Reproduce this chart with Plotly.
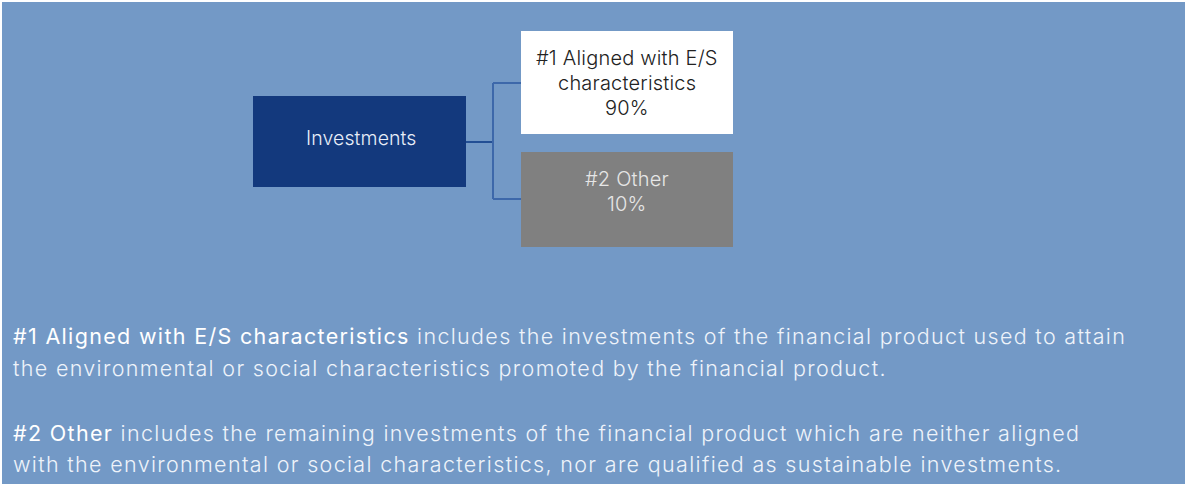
import plotly.graph_objects as go

# ---- data ----
root_label = "Investments"
branch_labels = [["#1 Aligned with E/S", "characteristics"], ["#2 Other"]]
branch_shares = [90, 10]
desc_titles = ["#1 Aligned with E/S characteristics", "#2 Other"]
desc_lines = [
    [" includes the investments of the financial product used to attain",
     "the environmental or social characteristics promoted by the financial product."],
    [" includes the remaining investments of the financial product which are neither aligned",
     "with the environmental or social characteristics, nor are qualified as sustainable investments."],
]

W, H = 1187, 484
BG = "#7399c6"
FONT = "Inter"

fig = go.Figure()
fig.add_trace(go.Scatter(x=[0, W], y=[0, H], mode="markers",
                         marker=dict(opacity=0), hoverinfo="skip", showlegend=False))

shapes = []
shapes.append(dict(type="rect", x0=2, x1=W - 2, y0=2, y1=H + 2, line=dict(width=0), fillcolor=BG, layer="below"))


def label(x, y, text, size, color, anchor="center", spacing=0.0, weight=300):
    if spacing:
        text = f"<span style='letter-spacing:{spacing}px'>{text}</span>"
    fig.add_annotation(x=x, y=y, xanchor=anchor, yanchor="middle", align=anchor if anchor != "center" else "center",
                       text=text, showarrow=False, borderpad=0,
                       font=dict(family=FONT, size=size, color=color, weight=weight))


root = dict(x0=253, x1=466, y0=96, y1=187)
shapes.append(dict(type="rect", **root, line=dict(width=0), fillcolor="#13397d"))
label((root["x0"] + root["x1"]) / 2 + 2, 138, root_label, 19.5, "#e8eef8", spacing=0.1)

boxes = [dict(x0=521, x1=733, y0=31, y1=134), dict(x0=521, x1=733, y0=152, y1=247)]
fills = ["#ffffff", "#808080"]
tcolors = ["#222222", "#e6e6e6"]
line_y = [[58, 83, 108], [179, 204]]
for b, lab, sh, fc, tc, ys in zip(boxes, branch_labels, branch_shares, fills, tcolors, line_y):
    shapes.append(dict(type="rect", **b, line=dict(width=0), fillcolor=fc))
    cx = (b["x0"] + b["x1"]) / 2
    for t, yy in zip(lab + [f"{sh}%"], ys):
        label(cx, yy, t, 20, tc, spacing=0.2)

LC = "#3d68aa"
cy_mid = 142
shapes.append(dict(type="line", x0=466, x1=493, y0=cy_mid, y1=cy_mid, line=dict(color="#234f94", width=2)))
shapes.append(dict(type="line", x0=493, x1=493, y0=83, y1=199, line=dict(color=LC, width=2)))
shapes.append(dict(type="line", x0=493, x1=521, y0=83, y1=83, line=dict(color=LC, width=2)))
shapes.append(dict(type="line", x0=493, x1=521, y0=199, y1=199, line=dict(color=LC, width=2)))

para_y = [[336, 368], [433, 464]]
SP = 1.33
FS = 21.5
for title, lines, ys in zip(desc_titles, desc_lines, para_y):
    first = (f"<span style='letter-spacing:{SP}px'><span style='font-weight:400;color:#ffffff'>{title}</span>"
             f"{lines[0]}</span>")
    label(12, ys[0], first, FS, "#eef3fa", anchor="left")
    label(12, ys[1], lines[1], FS, "#eef3fa", anchor="left", spacing=SP)

fig.update_layout(
    width=W, height=H, margin=dict(l=0, r=0, t=0, b=0),
    paper_bgcolor="#ffffff", plot_bgcolor="rgba(0,0,0,0)",
    xaxis=dict(range=[0, W], visible=False, fixedrange=True),
    yaxis=dict(range=[H, 0], visible=False, fixedrange=True),
    shapes=shapes, showlegend=False,
)
fig.write_html("out.html", config={"displayModeBar": False},
               post_script="document.body.style.margin='0';document.body.style.overflow='hidden';")
